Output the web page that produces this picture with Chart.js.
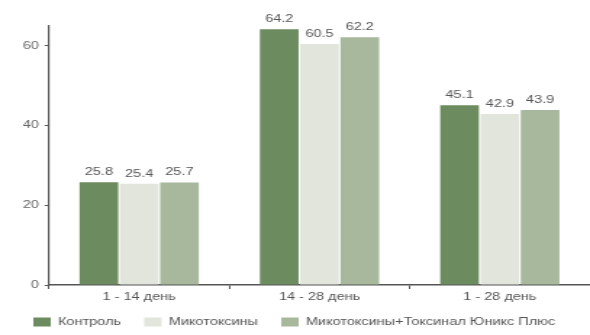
<!DOCTYPE html>
<html>
<head>
<meta charset="utf-8">
<script src="https://cdn.jsdelivr.net/npm/chart.js@4"></script>
<style>
  body { margin: 0; background: #fff; overflow: hidden; }
  /* the reference picture is stretched sideways, so draw narrow and stretch */
  #wrap { width: 407px; height: 335px; transform: scaleX(1.4496); transform-origin: 0 0; }
</style>
</head>
<body>
<div id="wrap"><canvas id="chart" width="407" height="335"></canvas></div>
<script>
const categories = ["1 - 14 день", "14 - 28 день", "1 - 28 день"];
const seriesNames = ["Контроль", "Микотоксины", "Микотоксины+Токсинал Юникс Плюс"];
const control = [25.8, 64.2, 45.1];
const mycotoxins = [25.4, 60.5, 42.9];
const mycoPlus = [25.7, 62.2, 43.9];
const yTicks = [0, 20, 40, 60];

const FONT = "'Liberation Sans', Arial, sans-serif";
const LEGEND_H = 30;

// values printed over each bar
const valueLabels = {
  id: "valueLabels",
  afterDatasetsDraw(chart) {
    const ctx = chart.ctx;
    ctx.save();
    ctx.font = "10px " + FONT;
    ctx.fillStyle = "#555";
    ctx.textAlign = "center";
    ctx.textBaseline = "bottom";
    chart.data.datasets.forEach((ds, i) => {
      chart.getDatasetMeta(i).data.forEach((bar, j) => {
        ctx.fillText(ds.data[j].toFixed(1), bar.x, bar.y - 5);
      });
    });
    ctx.restore();
  }
};

// keep the legend short and move it to the bottom edge
const legendPlace = {
  id: "legendPlace",
  beforeLayout(chart) {
    const lg = chart.legend;
    if (lg && !lg._patched) {
      const fit = lg.fit;
      lg.fit = function () { fit.call(this); this.height = LEGEND_H; };
      lg._patched = true;
    }
  },
  afterLayout(chart) {
    const lg = chart.legend;
    if (lg) {
      lg.top = 301;
      lg.bottom = 341;
    }
  }
};

new Chart(document.getElementById("chart").getContext("2d"), {
  type: "bar",
  data: {
    labels: categories,
    datasets: [
      { label: seriesNames[0], data: control, backgroundColor: "#6c8b5f" },
      { label: seriesNames[1], data: mycotoxins, backgroundColor: "#e1e5dc" },
      { label: seriesNames[2], data: mycoPlus, backgroundColor: "#a8b89d" }
    ]
  },
  options: {
    responsive: false,
    animation: false,
    layout: { padding: { top: 26, right: 0, left: 7, bottom: 0 } },
    datasets: { bar: { categoryPercentage: 0.67, barPercentage: 0.96 } },
    plugins: {
      legend: {
        position: "bottom",
        align: "start",
        labels: { boxWidth: 12, boxHeight: 9, padding: 16, color: "#555", font: { size: 10, family: FONT } }
      },
      tooltip: { enabled: false }
    },
    scales: {
      x: {
        grid: { drawOnChartArea: false, drawTicks: true, tickLength: 4, color: "#555", offset: true },
        border: { color: "#555", width: 1.5 },
        ticks: { color: "#555", font: { size: 10, family: FONT }, padding: 2 }
      },
      y: {
        min: 0,
        max: 65,
        afterBuildTicks(axis) { axis.ticks = yTicks.map(v => ({ value: v })); },
        afterFit(axis) { axis.width = 26.8; },
        grid: { drawOnChartArea: false, drawTicks: true, tickLength: 3, color: "#555" },
        border: { color: "#555", width: 1.2 },
        ticks: { color: "#666", font: { size: 10, family: FONT }, padding: 4 }
      }
    }
  },
  plugins: [valueLabels, legendPlace]
});
</script>
</body>
</html>
